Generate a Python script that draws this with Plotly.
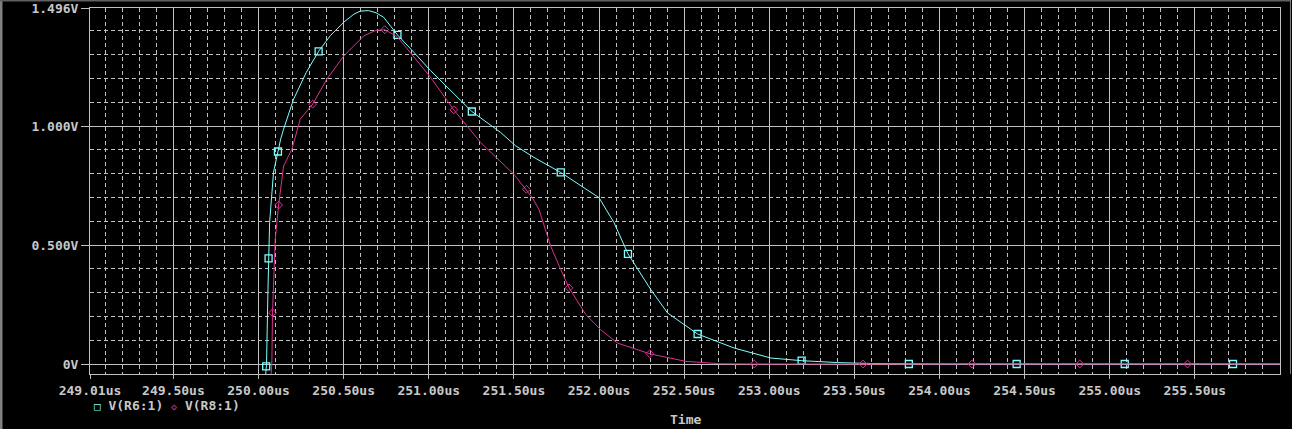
import plotly.graph_objects as go

# ---------------- data ----------------
# V(R6:1) trace (cyan)
r6_time = [250.040, 250.047, 250.055, 250.059, 250.065, 250.088, 250.114, 250.130,
           250.147, 250.206, 250.280, 250.353, 250.422, 250.500, 250.560, 250.598, 250.647,
           250.690, 250.735, 250.816, 250.912, 251.010, 251.253, 251.422, 251.510, 251.618,
           251.775, 251.892, 252.000, 252.088, 252.170, 252.304, 252.402, 252.579,
           252.794, 253.010, 253.190, 253.400, 253.600, 254.000, 255.000, 256.000]
r6_volt = [-0.060, 0.000, 0.300, 0.444, 0.595, 0.806, 0.893, 0.945,
           0.987, 1.113, 1.225, 1.314, 1.380, 1.436, 1.470, 1.483, 1.485,
           1.476, 1.457, 1.383, 1.310, 1.233, 1.061, 0.973, 0.917, 0.868,
           0.805, 0.748, 0.699, 0.594, 0.463, 0.313, 0.215, 0.126,
           0.067, 0.025, 0.014, 0.006, 0.002, 0.000, 0.000, 0.000]

# V(R6:1) marker samples (squares)
r6_mk_time = [250.045, 250.059, 250.114, 250.353, 250.816, 251.253, 251.775,
              252.170, 252.579, 253.190, 253.820, 254.453, 255.088, 255.724]
r6_mk_volt = [-0.010, 0.444, 0.893, 1.314, 1.383, 1.061, 0.805,
              0.463, 0.126, 0.014, 0.000, 0.000, 0.000, 0.000]

# V(R8:1) trace (magenta)
r8_time = [250.072, 250.078, 250.082, 250.098, 250.118, 250.147, 250.196, 250.245,
           250.318, 250.402, 250.500, 250.618, 250.690, 250.741, 250.814, 250.912,
           251.010, 251.147, 251.304, 251.500, 251.573, 251.608, 251.647, 251.716,
           251.775, 251.824, 251.922, 252.010, 252.108, 252.298, 252.510, 252.716,
           252.912, 253.500, 254.500, 256.000]
r8_volt = [-0.060, 0.000, 0.215, 0.524, 0.668, 0.832, 0.903, 1.029,
           1.092, 1.198, 1.294, 1.379, 1.402, 1.405, 1.376, 1.290,
           1.205, 1.068, 0.931, 0.797, 0.734, 0.699, 0.650, 0.495,
           0.397, 0.320, 0.208, 0.144, 0.088, 0.043, 0.011, 0.001,
           0.000, 0.000, 0.000, 0.000]

# V(R8:1) marker samples (diamonds)
r8_mk_time = [250.082, 250.118, 250.318, 250.741, 251.147, 251.573, 251.824,
              252.298, 252.912, 253.551, 254.190, 254.824, 255.457]
r8_mk_volt = [0.215, 0.668, 1.092, 1.405, 1.068, 0.734, 0.320,
              0.043, 0.000, 0.000, 0.000, 0.000, 0.000]

# axis ticks
x_tickvals = [249.01, 249.50, 250.00, 250.50, 251.00, 251.50, 252.00, 252.50,
              253.00, 253.50, 254.00, 254.50, 255.00, 255.50]
x_ticktext = ["249.01us", "249.50us", "250.00us", "250.50us", "251.00us", "251.50us",
              "252.00us", "252.50us", "253.00us", "253.50us", "254.00us", "254.50us",
              "255.00us", "255.50us"]
y_tickvals = [0.0, 0.5, 1.0, 1.496]
y_ticktext = ["0V", "0.500V", "1.000V", "1.496V"]

series_names = ["V(R6:1)", "V(R8:1)"]
x_title = "Time"

# ---------------- style ----------------
CYAN = "#80ffff"
MAGENTA = "#d8338f"
GRID = "#c0c0c0"
TEXT = "#c8c8c8"
FONT = "DejaVu Sans Mono"
TFONT = dict(family=FONT, size=13, color=TEXT, weight="bold")

fig = go.Figure()
fig.add_trace(go.Scatter(x=r6_time, y=r6_volt, mode="lines",
                         line=dict(color=CYAN, width=1), showlegend=False, name=series_names[0]))
fig.add_trace(go.Scatter(x=r6_mk_time, y=r6_mk_volt, mode="markers",
                         marker=dict(symbol="square-open", size=7, color=CYAN, line=dict(width=1.3)),
                         showlegend=False, name=series_names[0]))
fig.add_trace(go.Scatter(x=r8_time, y=r8_volt, mode="lines",
                         line=dict(color=MAGENTA, width=1), showlegend=False, name=series_names[1]))
fig.add_trace(go.Scatter(x=r8_mk_time, y=r8_mk_volt, mode="markers",
                         marker=dict(symbol="diamond-open", size=6, color=MAGENTA, line=dict(width=1)),
                         showlegend=False, name=series_names[1]))

fig.update_layout(
    width=1292, height=429,
    margin=dict(l=90, r=12, t=8, b=55, autoexpand=False),
    paper_bgcolor="black", plot_bgcolor="black",
    font=TFONT,
    showlegend=False,
)

fig.update_xaxes(
    range=[249.01, 256.0], automargin=False,
    tickmode="array", tickvals=x_tickvals, ticktext=x_ticktext,
    ticks="outside", ticklen=4, tickcolor=GRID, tickwidth=1,
    tickfont=TFONT,
    showgrid=True, gridcolor=GRID, gridwidth=1,
    showline=True, linecolor=GRID, linewidth=1, mirror=True,
    zeroline=False,
    minor=dict(tickmode="linear", tick0=249.0, dtick=0.1, showgrid=True,
               gridcolor=GRID, gridwidth=1, griddash="4px,3px", ticks=""),
)
fig.update_yaxes(
    range=[-0.042, 1.496], automargin=False,
    tickmode="array", tickvals=y_tickvals, ticktext=y_ticktext,
    ticks="outside", ticklen=8, tickcolor=GRID, tickwidth=1,
    tickfont=TFONT,
    showgrid=True, gridcolor=GRID, gridwidth=1,
    showline=True, linecolor=GRID, linewidth=1, mirror=True,
    zeroline=False,
    minor=dict(tickmode="linear", tick0=0.0, dtick=0.1, showgrid=True,
               gridcolor=GRID, gridwidth=1, griddash="4px,3px", ticks=""),
)

# legend row under the axis
legend_text = (f"<span style='color:{CYAN};font-size:11px'>□</span> {series_names[0]} "
               f"<span style='color:{MAGENTA};font-size:10px'>◇</span> {series_names[1]}")
fig.add_annotation(text=legend_text, xref="paper", yref="paper", x=0.002, y=-0.085,
                   xanchor="left", yanchor="middle", showarrow=False, font=TFONT)
# axis title
fig.add_annotation(text=x_title, xref="paper", yref="paper", x=0.5, y=-0.123,
                   xanchor="center", yanchor="middle", showarrow=False, font=TFONT)

# window border
fig.add_shape(type="line", xref="paper", yref="paper", x0=-0.0748, x1=-0.0748, y0=-0.15, y1=1.03,
              line=dict(color="#808080", width=3))
fig.add_shape(type="line", xref="paper", yref="paper", x0=-0.0756, x1=1.0092, y0=1.0205, y1=1.0205,
              line=dict(color="#606060", width=2))
fig.add_shape(type="line", xref="paper", yref="paper", x0=1.0088, x1=1.0088, y0=0.0, y1=1.03,
              line=dict(color="#808080", width=1))

# remove the default page margin so the figure sits at the page origin
page_js = ("document.body.style.margin='0';document.body.style.padding='0';"
           "document.body.style.background='black';"
           "document.documentElement.style.background='black';")
fig.write_html("out.html", post_script=page_js, config={"displayModeBar": False})
